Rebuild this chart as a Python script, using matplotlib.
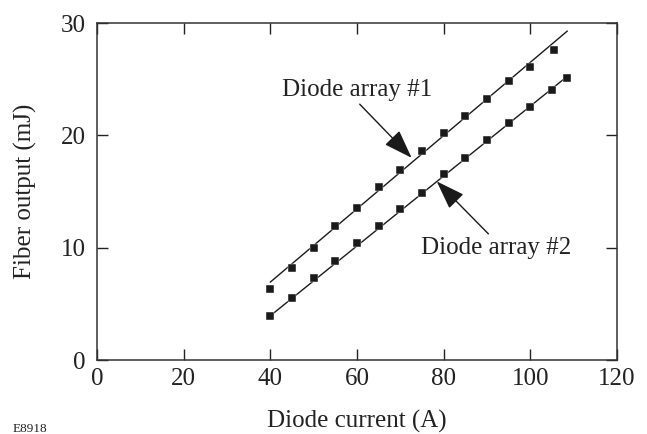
import numpy as np
import matplotlib
matplotlib.use("Agg")
import matplotlib.pyplot as plt

plt.rcParams['font.family'] = ['Liberation Serif', 'DejaVu Serif']

# Diode array #1 (upper series)
current1 = [40, 45, 50, 55, 60, 65, 70, 75, 80, 85, 90, 95, 100, 105.5]
output1 = [6.3, 8.2, 10.0, 11.9, 13.5, 15.4, 16.9, 18.6, 20.2, 21.7, 23.2, 24.8, 26.1, 27.6]

# Diode array #2 (lower series)
current2 = [40, 45, 50, 55, 60, 65, 70, 75, 80, 85, 90, 95, 100, 105, 108.5]
output2 = [3.9, 5.5, 7.3, 8.8, 10.4, 11.9, 13.4, 14.9, 16.6, 18.0, 19.6, 21.1, 22.5, 24.0, 25.1]

# fitted lines
fit1 = [0.326, -6.1]
fit2 = [0.311, -8.5]
fit_x = [40, 108.5]

xticks = [0, 20, 40, 60, 80, 100, 120]
yticks = [0, 10, 20, 30]

fig = plt.figure(figsize=(6.47, 4.34), dpi=100)
ax = fig.add_axes([0.150, 0.1705, 0.8036, 0.7765])

dark = '#1a1a1a'
fx = np.array(fit_x)
ax.plot(fx, np.polyval(fit1, fx), color=dark, lw=1.0)
ax.plot(fx, np.polyval(fit2, fx), color=dark, lw=1.0)
ax.plot(current1, output1, 's', color=dark, ms=6.2, mec='white', mew=0.3)
ax.plot(current2, output2, 's', color=dark, ms=6.2, mec='white', mew=0.3)

ax.set_xlim(0, 120)
ax.set_ylim(0, 30)
ax.set_xticks(xticks)
ax.set_yticks(yticks)
ax.tick_params(direction='in', length=8, width=1, top=True, right=True,
               labelsize=18, colors='#222222')
ax.tick_params(axis='x', pad=6)
ax.tick_params(axis='y', pad=8)
for s in ax.spines.values():
    s.set_linewidth(1.1)
    s.set_color('#333333')

ax.set_xlabel('Diode current (A)', fontsize=18, labelpad=14, color='#222222')
ax.set_ylabel('Fiber output (mJ)', fontsize=18, labelpad=17, color='#222222')

arrow = dict(arrowstyle='-|>,head_length=1.0,head_width=0.35', color=dark,
             lw=1.0, shrinkA=0, shrinkB=0)
ax.annotate('Diode array #1', xy=(72.6, 18.0), xytext=(60, 24.0),
            fontsize=18, ha='center', va='center', color='#222222',
            arrowprops=dict(arrow, relpos=(0.5, 0.0)))
ax.annotate('Diode array #2', xy=(78.4, 15.9), xytext=(92, 10.0),
            fontsize=18, ha='center', va='center', color='#222222',
            arrowprops=dict(arrow, relpos=(0.47, 1.0)))

fig.text(0.02, 0.005, 'E8918', fontsize=9.5, color='#222222')

fig.savefig('out.png', dpi=100)
